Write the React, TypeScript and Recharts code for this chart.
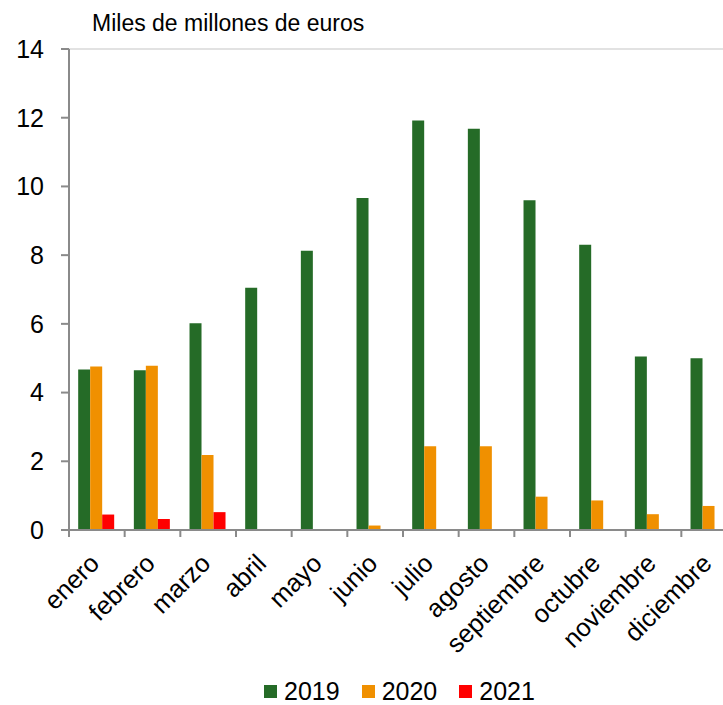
import React from 'react';
import { BarChart, Bar, XAxis, YAxis, Legend, ReferenceLine } from 'recharts';

const months = ['enero', 'febrero', 'marzo', 'abril', 'mayo', 'junio', 'julio', 'agosto', 'septiembre', 'octubre', 'noviembre', 'diciembre'];
const values2019 = [4.67, 4.65, 6.02, 7.05, 8.13, 9.66, 11.92, 11.68, 9.6, 8.3, 5.05, 5.0];
const values2020 = [4.76, 4.78, 2.18, 0, 0, 0.13, 2.44, 2.44, 0.97, 0.86, 0.46, 0.7];
const values2021 = [0.45, 0.32, 0.52, null, null, null, null, null, null, null, null, null];
const yTicks = [0, 2, 4, 6, 8, 10, 12, 14];

const SERIES = [
  { key: 'y2019', name: '2019', color: '#256b27' },
  { key: 'y2020', name: '2020', color: '#f09000' },
  { key: 'y2021', name: '2021', color: '#ff0000' },
];

const data = months.map((m, i) => ({
  name: m,
  y2019: values2019[i],
  y2020: values2020[i],
  y2021: values2021[i],
}));

const FONT = '"Liberation Sans", Arial, Helvetica, sans-serif';
const AXIS_GRAY = '#8a8a8a';
const CHART_W = 740;
const CHART_H = 705;
const MARGIN = { top: 49, right: 3, left: 0, bottom: 0 };
const Y_AXIS_W = 69;
// width of one month slot, used for the boundary ticks under the axis
const BAND = (CHART_W - MARGIN.left - MARGIN.right - Y_AXIS_W) / months.length;

const MonthTick = ({ x, y, payload, index }: any) => {
  const left = x - BAND / 2;
  const tx = x + 4;
  const ty = y + 35;
  return (
    <g>
      <line x1={left} y1={y} x2={left} y2={y + 7} stroke={AXIS_GRAY} strokeWidth={2} />
      {index === months.length - 1 && (
        <line x1={x + BAND / 2} y1={y} x2={x + BAND / 2} y2={y + 7} stroke={AXIS_GRAY} strokeWidth={2} />
      )}
      <text
        x={tx}
        y={ty}
        textAnchor="end"
        transform={`rotate(-45 ${tx} ${ty})`}
        fontSize={25.5}
        fontFamily={FONT}
        fill="#000"
      >
        {payload.value}
      </text>
    </g>
  );
};

const LegendContent = () => (
  <div style={{ display: 'flex', paddingLeft: 264, marginTop: 16, fontFamily: FONT, fontSize: 25, lineHeight: '20px', color: '#000' }}>
    {SERIES.map((s) => (
      <div key={s.key} style={{ display: 'flex', alignItems: 'center', marginRight: 22 }}>
        <span style={{ width: 13, height: 13, background: s.color, marginRight: 7, display: 'inline-block' }} />
        <span>{s.name}</span>
      </div>
    ))}
  </div>
);

export default function App() {
  return (
    <div style={{ position: 'absolute', left: 0, top: 0, width: 723, height: 705, overflow: 'hidden', background: '#fff' }}>
      <div style={{ position: 'absolute', left: 92, top: 12, fontFamily: FONT, fontSize: 23, lineHeight: 1, color: '#000', zIndex: 2 }}>
        Miles de millones de euros
      </div>
      <BarChart width={CHART_W} height={CHART_H} data={data} margin={MARGIN} barCategoryGap="16.5%" barGap={0}>
        <ReferenceLine y={14} stroke="#d9d9d9" strokeWidth={1.5} />
        <XAxis
          dataKey="name"
          height={135}
          interval={0}
          tickSize={0}
          tickMargin={0}
          tickLine={false}
          axisLine={{ stroke: AXIS_GRAY, strokeWidth: 2 }}
          tick={<MonthTick />}
        />
        <YAxis
          width={Y_AXIS_W}
          domain={[0, 14]}
          ticks={yTicks}
          interval={0}
          tickSize={8}
          tickMargin={17}
          tickLine={{ stroke: AXIS_GRAY, strokeWidth: 2 }}
          axisLine={{ stroke: AXIS_GRAY, strokeWidth: 2 }}
          tick={{ fontSize: 25, fill: '#000', fontFamily: FONT }}
        />
        {SERIES.map((s) => (
          <Bar key={s.key} dataKey={s.key} name={s.name} fill={s.color} isAnimationActive={false} />
        ))}
        <Legend verticalAlign="bottom" height={40} content={<LegendContent />} />
      </BarChart>
    </div>
  );
}
